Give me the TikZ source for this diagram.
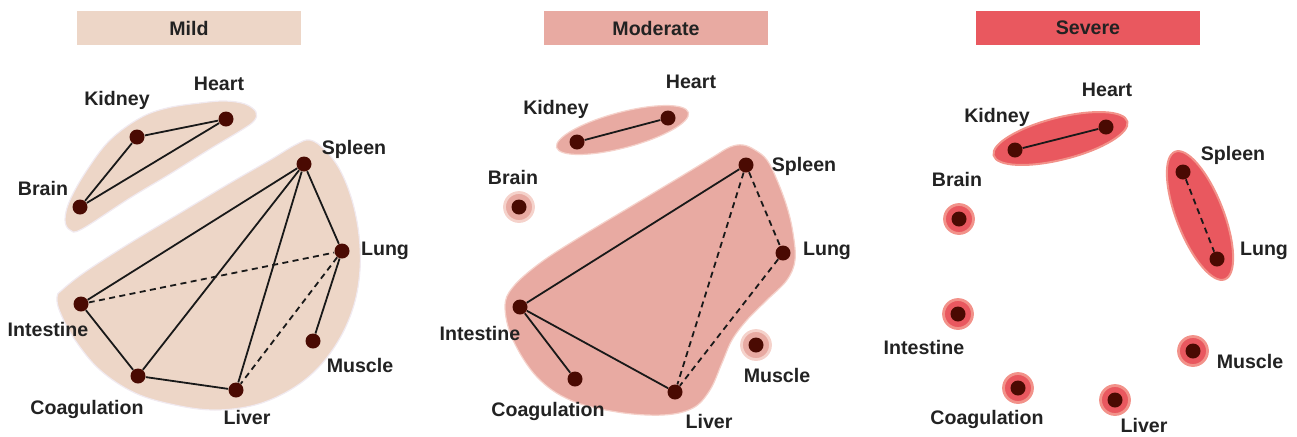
\documentclass[tikz,border=0pt]{standalone}
\usepackage{fontspec}
\setmainfont{Liberation Sans}
\usetikzlibrary{shapes.geometric,backgrounds,calc}
\definecolor{dotred}{HTML}{4A0A02}
\definecolor{mildc}{HTML}{EDD6C7}
\definecolor{mildrim}{HTML}{F1EAF0}
\definecolor{modc}{HTML}{E8AAA2}
\definecolor{modrim}{HTML}{F5D2CB}
\definecolor{sevc}{HTML}{E9585F}
\definecolor{sevrim}{HTML}{F2928A}
\definecolor{ink}{HTML}{222222}

\begin{document}
\begin{tikzpicture}[x=0.5pt,y=-0.5pt,
  font=\fontsize{9.8}{11}\selectfont\bfseries, text=ink,
  organ/.style={circle,fill=dotred,inner sep=0pt,minimum size=7.5pt},
  tag/.style={inner sep=0pt,text height=7.2pt,text depth=2pt,yshift=-0.9pt},
  title/.style={minimum width=112pt,minimum height=17pt,inner sep=0pt},
  link/.style={line width=0.9pt,black!90},
  weak/.style={link,dash pattern=on 3pt off 2.2pt},
  mildhull/.style={fill=mildc,draw=mildrim,line width=0.6pt},
  modhull/.style={fill=modc,draw=modrim,line width=0.6pt},
  modhalo/.style={circle,fill=modc,draw=modrim,line width=1.4pt,inner sep=0pt,minimum size=14.5pt},
  sevhalo/.style={circle,fill=sevc,draw=sevrim,line width=1.4pt,inner sep=0pt,minimum size=14.5pt},
  modpod/.style={ellipse,fill=modc,draw=modrim,line width=0.6pt,inner sep=0pt},
  sevpod/.style={ellipse,fill=sevc,draw=sevrim,line width=1pt,inner sep=0pt}]
\useasboundingbox (0,0) rectangle (1297,436);

% headers
\node[title,fill=mildc] (amild) at (189,28) {Mild};
\node[title,fill=modc] (bmod) at (656,28) {Moderate};
\node[title,fill=sevc] (csev) at (1088,28) {Severe};

% mild
\node[organ] (aheart) at (226,119) {};
\node[organ] (akidney) at (137,137) {};
\node[organ] (abrain) at (80,207) {};
\node[organ] (aspleen) at (304,164) {};
\node[organ] (alung) at (342,251) {};
\node[organ] (aintestine) at (81,304) {};
\node[organ] (amuscle) at (313,341) {};
\node[organ] (acoag) at (138,376) {};
\node[organ] (aliver) at (236,390) {};
\node[tag] (aheart-t) at (219,83) {Heart};
\node[tag] (akidney-t) at (117,98) {Kidney};
\node[tag] (abrain-t) at (43,188) {Brain};
\node[tag] (aspleen-t) at (354,147) {Spleen};
\node[tag] (alung-t) at (385,248) {Lung};
\node[tag] (aintestine-t) at (48,329) {Intestine};
\node[tag] (amuscle-t) at (360,365) {Muscle};
\node[tag] (acoag-t) at (87,407) {Coagulation};
\node[tag] (aliver-t) at (247,417) {Liver};
\draw[link] (akidney) -- (aheart);
\draw[link] (akidney) -- (abrain);
\draw[link] (abrain) -- (aheart);
\draw[link] (aspleen) -- (aintestine);
\draw[link] (aspleen) -- (acoag);
\draw[link] (aspleen) -- (aliver);
\draw[link] (aspleen) -- (alung);
\draw[link] (alung) -- (amuscle);
\draw[link] (aintestine) -- (acoag);
\draw[link] (acoag) -- (aliver);
\draw[weak] (aintestine) -- (alung);
\draw[weak] (alung) -- (aliver);

% moderate
\node[organ] (bheart) at (668,118) {};
\node[organ] (bkidney) at (577,142) {};
\node[organ] (bbrain) at (519,207) {};
\node[organ] (bspleen) at (746,165) {};
\node[organ] (blung) at (783,253) {};
\node[organ] (bintestine) at (520,307) {};
\node[organ] (bmuscle) at (756,345) {};
\node[organ] (bcoag) at (575,379) {};
\node[organ] (bliver) at (675,392) {};
\node[tag] (bheart-t) at (691,81) {Heart};
\node[tag] (bkidney-t) at (556,107) {Kidney};
\node[tag] (bbrain-t) at (513,177) {Brain};
\node[tag] (bspleen-t) at (804,164) {Spleen};
\node[tag] (blung-t) at (827,248) {Lung};
\node[tag] (bintestine-t) at (480,333) {Intestine};
\node[tag] (bmuscle-t) at (777,375) {Muscle};
\node[tag] (bcoag-t) at (548,409) {Coagulation};
\node[tag] (bliver-t) at (709,421) {Liver};
\draw[link] (bkidney) -- (bheart);
\draw[link] (bspleen) -- (bintestine);
\draw[link] (bintestine) -- (bcoag);
\draw[link] (bintestine) -- (bliver);
\draw[weak] (bspleen) -- (bliver);
\draw[weak] (bspleen) -- (blung);
\draw[weak] (blung) -- (bliver);

% severe
\node[organ] (cheart) at (1106,127) {};
\node[organ] (ckidney) at (1015,150) {};
\node[organ] (cbrain) at (959,219) {};
\node[organ] (cspleen) at (1183,172) {};
\node[organ] (clung) at (1217,259) {};
\node[organ] (cintestine) at (958,314) {};
\node[organ] (cmuscle) at (1193,351) {};
\node[organ] (ccoag) at (1018,388) {};
\node[organ] (cliver) at (1115,400) {};
\node[tag] (cheart-t) at (1107,89) {Heart};
\node[tag] (ckidney-t) at (997,115) {Kidney};
\node[tag] (cbrain-t) at (957,179) {Brain};
\node[tag] (cspleen-t) at (1233,153) {Spleen};
\node[tag] (clung-t) at (1264,248) {Lung};
\node[tag] (cintestine-t) at (924,347) {Intestine};
\node[tag] (cmuscle-t) at (1250,361) {Muscle};
\node[tag] (ccoag-t) at (987,417) {Coagulation};
\node[tag] (cliver-t) at (1144,425) {Liver};
\draw[link] (ckidney) -- (cheart);
\draw[weak] (cspleen) -- (clung);

% clusters behind
\begin{scope}[on background layer]
\draw[mildhull] plot[smooth cycle,tension=0.6] coordinates {(256,112) (245,104) (225,101) (200,103) (167,108) (140,118) (110,140) (87,170) (70,200) (65,220) (70,230) (82,229) (130,198) (170,174) (210,149) (240,131) (254,121)};
\draw[mildhull] plot[smooth cycle,tension=0.6] coordinates {(310,140) (325,150) (340,170) (352,200) (359,235) (360,270) (354,305) (340,338) (318,368) (290,390) (255,405) (215,410) (175,405) (135,393) (100,370) (75,340) (60,312) (57,297) (62,290) (85,272) (130,243) (180,213) (230,183) (270,160) (295,145)};
\draw[modhull] plot[smooth cycle,tension=0.6] coordinates {(730,147) (743,145) (755,150) (767,160) (777,180) (787,207) (793,233) (795,260) (787,280) (767,300) (747,320) (732,340) (722,363) (710,390) (693,408) (663,415) (617,412) (570,400) (537,377) (513,340) (505,307) (513,287) (540,263) (580,237) (630,207) (680,177) (713,157)};
\node[modpod,rotate=14.8,minimum width=68.2pt,minimum height=17.8pt] (bpair) at ($(bkidney)!.5!(bheart)$) {};
\node[modhalo] (bbrain-h) at (bbrain) {};
\node[modhalo] (bmuscle-h) at (bmuscle) {};
\node[sevpod,rotate=14.2,minimum width=69pt,minimum height=21pt] (cpair) at ($(ckidney)!.5!(cheart)$) {};
\node[sevpod,rotate=-68.7,minimum width=68.5pt,minimum height=23.5pt] (clobe) at ($(cspleen)!.5!(clung)$) {};
\node[sevhalo] (cbrain-h) at (cbrain) {};
\node[sevhalo] (cintestine-h) at (cintestine) {};
\node[sevhalo] (cmuscle-h) at (cmuscle) {};
\node[sevhalo] (ccoag-h) at (ccoag) {};
\node[sevhalo] (cliver-h) at (cliver) {};
\end{scope}
\end{tikzpicture}
\end{document}
